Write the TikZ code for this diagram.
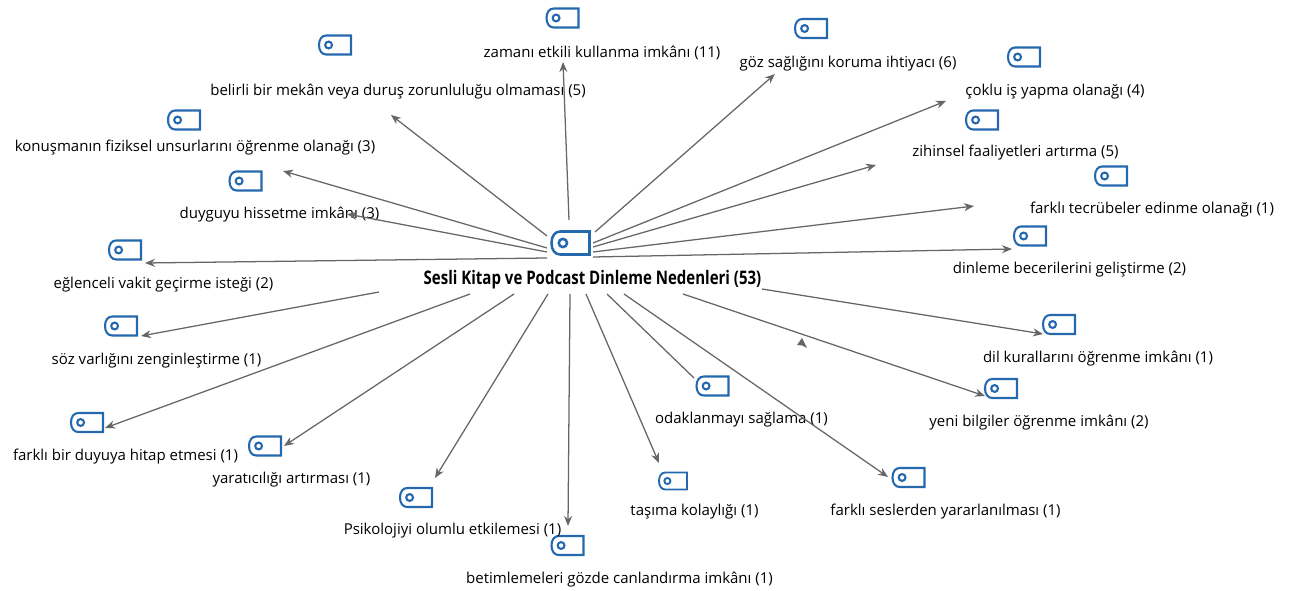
\documentclass[tikz,border=0pt]{standalone}
\usepackage{fontspec}
\setmainfont{Open Sans}
\usetikzlibrary{arrows.meta,calc}
\definecolor{tagblue}{HTML}{2468AE}
\definecolor{linkgray}{HTML}{666666}
\tikzset{
  lbl/.style={inner sep=0pt,font=\fontsize{11.25pt}{13pt}\selectfont,text=black},
  ttl/.style={inner sep=0pt,font=\fontsize{14pt}{16pt}\selectfont\bfseries,text=black},
  link/.style={draw=linkgray,line width=0.95pt,-{Stealth[length=7.5pt,width=6pt]}},
  plainlink/.style={draw=linkgray,line width=0.95pt},
}
% tag icon: name, x, y, half-width, half-height (left corners rounded, right corners square)
\newcommand{\tagmark}[5]{%
  \coordinate (#1) at (#2,#3);
  \draw[tagblue,line width=#5*0.165pt,line join=miter]
    ($(#1)+(#4,-#5)$) -- ($(#1)+(-#4*0.55,-#5)$)
    .. controls ($(#1)+(-#4*0.82,-#5)$) and ($(#1)+(-#4,-#5*0.6)$) .. ($(#1)+(-#4,0)$)
    .. controls ($(#1)+(-#4,#5*0.6)$) and ($(#1)+(-#4*0.82,#5)$) .. ($(#1)+(-#4*0.55,#5)$)
    -- ($(#1)+(#4,#5)$) -- cycle;
  \draw[tagblue,line width=#5*0.165pt] ($(#1)+(-#4*0.4,0)$) circle[radius=#5*0.36];
}
\begin{document}
\begin{tikzpicture}[x=0.75pt,y=-0.75pt]
\useasboundingbox (0,0) rectangle (1290,591);
\tagmark{hub}{570.5}{243}{19}{11.5}
\tagmark{t1}{562.5}{18}{16}{9.5}
\tagmark{t2}{811}{28.5}{16}{9.5}
\tagmark{t3}{1024}{57}{16}{9.5}
\tagmark{t4}{335}{45}{16}{9.5}
\tagmark{t5}{184}{120}{16}{9.5}
\tagmark{t6}{982}{120}{16}{9.5}
\tagmark{t7}{1111}{176}{16}{9.5}
\tagmark{t8}{245.5}{181}{16}{9.5}
\tagmark{t9}{1030}{236}{16}{9.5}
\tagmark{t10}{125}{250}{16}{9.5}
\tagmark{t11}{1059}{324.5}{16}{9.5}
\tagmark{t12}{121}{326}{16}{9.5}
\tagmark{t13}{1001}{388.5}{16}{9.5}
\tagmark{t14}{712.5}{386}{16}{9.5}
\tagmark{t15}{87}{422.5}{16}{9.5}
\tagmark{t16}{265}{446}{16}{9.5}
\tagmark{t17}{673}{481}{14}{8.5}
\tagmark{t18}{908.5}{477.5}{16}{9.5}
\tagmark{t19}{416}{497.5}{16}{9.5}
\tagmark{t20}{567.5}{545.5}{16}{9.5}

\node[ttl] (title) at (592.5,280) {\scalebox{0.805}[1]{Sesli Kitap ve Podcast Dinleme Nedenleri (53)}};
\node[lbl] (l1) at (602,52.5) {zamanı etkili kullanma imkânı (11)};
\node[lbl] (l2) at (848,63.5) {göz sağlığını koruma ihtiyacı (6)};
\node[lbl] (l3) at (1055,91.5) {çoklu iş yapma olanağı (4)};
\node[lbl] (l4) at (398,91.5) {belirli bir mekân veya duruş zorunluluğu olmaması (5)};
\node[lbl] (l5) at (195,147.5) {konuşmanın fiziksel unsurlarını öğrenme olanağı (3)};
\node[lbl] (l6) at (1015.5,152.5) {zihinsel faaliyetleri artırma (5)};
\node[lbl] (l7) at (1152,209.5) {farklı tecrübeler edinme olanağı (1)};
\node[lbl] (l8) at (279.5,214.5) {duyguyu hissetme imkânı (3)};
\node[lbl] (l9) at (1069.5,269.5) {dinleme becerilerini geliştirme (2)};
\node[lbl] (l10) at (163.5,284.5) {eğlenceli vakit geçirme isteği (2)};
\node[lbl] (l11) at (1098,358.5) {dil kurallarını öğrenme imkânı (1)};
\node[lbl] (l12) at (156.5,360.5) {söz varlığını zenginleştirme (1)};
\node[lbl] (l13) at (1039,422.5) {yeni bilgiler öğrenme imkânı (2)};
\node[lbl] (l14) at (741.5,419.5) {odaklanmayı sağlama (1)};
\node[lbl] (l15) at (125.5,456.5) {farklı bir duyuya hitap etmesi (1)};
\node[lbl] (l16) at (291.5,479.5) {yaratıcılığı artırması (1)};
\node[lbl] (l17) at (694.5,511.5) {taşıma kolaylığı (1)};
\node[lbl] (l18) at (945.5,511.5) {farklı seslerden yararlanılması (1)};
\node[lbl] (l19) at (452.5,530.5) {Psikolojiyi olumlu etkilemesi (1)};
\node[lbl] (l20) at (619.5,579.5) {betimlemeleri gözde canlandırma imkânı (1)};

% connector ends
\foreach \n/\ax/\ay/\bx/\by in {
  1/569/220/563/62, 2/595/232/775/74, 3/593/243/946/101, 6/593/247/876/165,
  7/593/252/974/206, 9/593/257/1012/249, 4/547/236/391/115, 5/547/248/283/171,
  8/547/252/347/214, 10/547/258/145/263, 12/379/292/141/336, 15/470/294/105/428,
  16/514/294/284/446, 19/548/294/435/478, 20/570/294/568/526, 17/586/294/659/463,
  18/624/294/888/477, 13/683/294/985/396, 11/762/289/1043/334}{
  \coordinate (s\n) at (\ax,\ay);
  \coordinate (e\n) at (\bx,\by);
  \draw[link] (s\n) -- (e\n);
}
\coordinate (s14) at (607,294);
\coordinate (e14) at (694,378);
\draw[plainlink] (s14) -- (e14);
\fill[linkgray] (797,345) -- (802,338) -- (807,348) -- (802,345.5) -- cycle;
\end{tikzpicture}
\end{document}
